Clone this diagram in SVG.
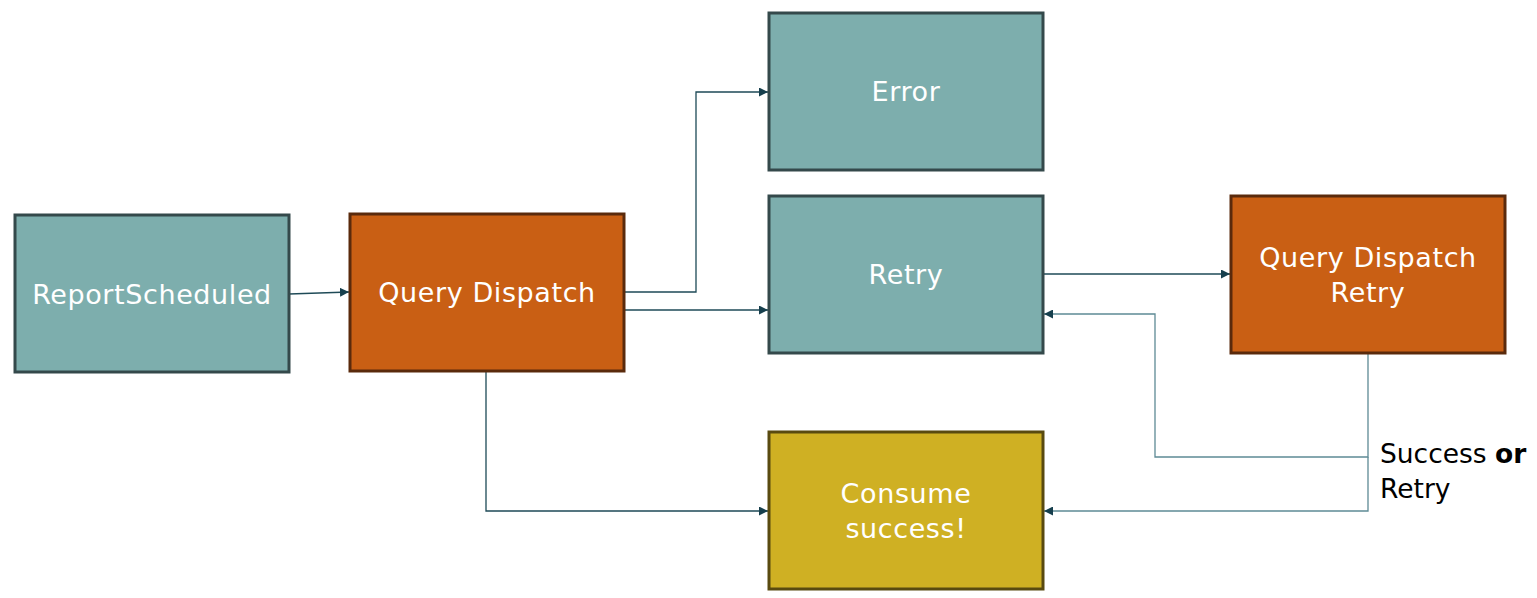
<svg xmlns="http://www.w3.org/2000/svg" width="1537" height="598" viewBox="0 0 1537 598">
<defs>
<style>
.teal{fill:#7DAEAD;stroke:#34494B;stroke-width:3}
.orange{fill:#C95F14;stroke:#5A2A0C;stroke-width:3}
.gold{fill:#CFB023;stroke:#594A10;stroke-width:3}
.lbl{font-family:"DejaVu Sans","Liberation Sans",sans-serif;font-size:27px;letter-spacing:0.6px;fill:#FFFFFF;text-anchor:middle}
.note{font-family:"DejaVu Sans","Liberation Sans",sans-serif;font-size:26.5px;fill:#000000}
.c{fill:none;stroke:#1E4A57;stroke-width:1.3}
.c2{fill:none;stroke:#5E8A95;stroke-width:1.3}
</style>
<marker id="ah" viewBox="0 0 10 10" refX="10" refY="5" markerWidth="9" markerHeight="9" markerUnits="userSpaceOnUse" orient="auto">
<path d="M0,0 L10,5 L0,10 Z" fill="#163F4D"/>
</marker>
</defs>
<rect width="1537" height="598" fill="#FFFFFF"/>
<g id="connectors">
<path class="c" d="M289,294 L349,292" marker-end="url(#ah)"/>
<path class="c" d="M624,292 L696,292 L696,92 L768,92" marker-end="url(#ah)"/>
<path class="c" d="M624,310 L768,310" marker-end="url(#ah)"/>
<path class="c" d="M1043,274 L1230,274" marker-end="url(#ah)"/>
<path class="c2" d="M1368,353 L1368,457 L1155,457 L1155,314 L1044,314" marker-end="url(#ah)"/>
<path class="c2" d="M1368,457 L1368,511 L1044,511" marker-end="url(#ah)"/>
<path class="c" d="M486,371 L486,511 L768,511" marker-end="url(#ah)"/>
</g>
<g id="report-scheduled">
<rect class="teal" x="15" y="215" width="274" height="157"/>
<text class="lbl" x="152" y="304">ReportScheduled</text>
</g>
<g id="query-dispatch">
<rect class="orange" x="350" y="214" width="274" height="157"/>
<text class="lbl" x="487" y="302">Query Dispatch</text>
</g>
<g id="error">
<rect class="teal" x="769" y="13" width="274" height="157"/>
<text class="lbl" x="906" y="101">Error</text>
</g>
<g id="retry">
<rect class="teal" x="769" y="196" width="274" height="157"/>
<text class="lbl" x="906" y="284">Retry</text>
</g>
<g id="query-dispatch-retry">
<rect class="orange" x="1231" y="196" width="274" height="157"/>
<text class="lbl" x="1368" y="267">Query Dispatch</text>
<text class="lbl" x="1368" y="302">Retry</text>
</g>
<g id="consume-success">
<rect class="gold" x="769" y="432" width="274" height="157"/>
<text class="lbl" x="906" y="503">Consume</text>
<text class="lbl" x="906" y="538">success!</text>
</g>
<g id="label">
<text class="note" x="1380" y="463">Success <tspan font-weight="bold">or</tspan></text>
<text class="note" x="1380" y="498">Retry</text>
</g>
</svg>
